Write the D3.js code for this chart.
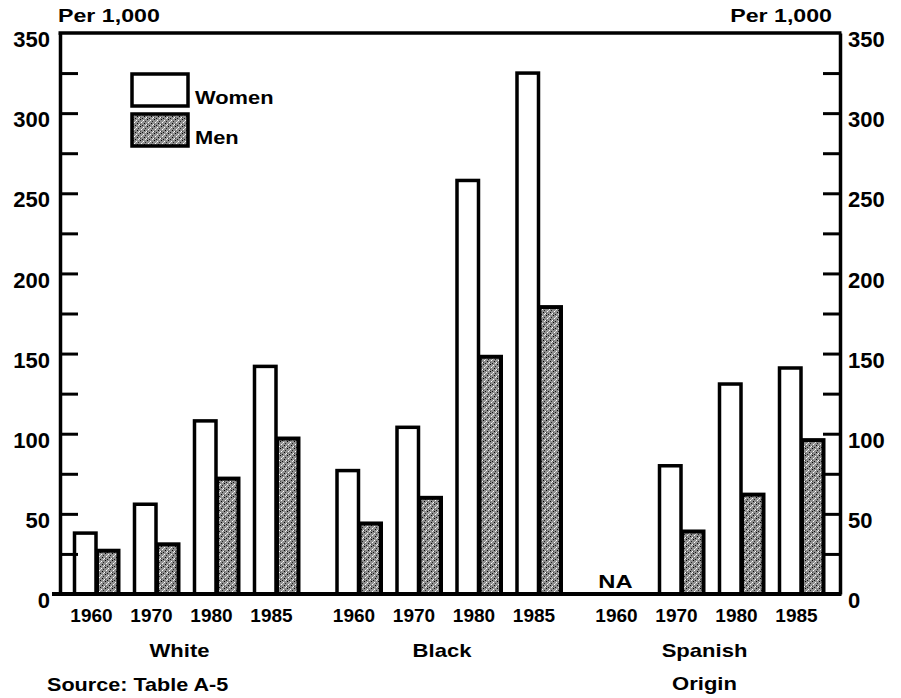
<!DOCTYPE html>
<html>
<head>
<meta charset="utf-8">
<script src="https://cdn.jsdelivr.net/npm/d3@7"></script>
<style>
  html, body { margin: 0; padding: 0; background: #fff; }
  svg { display: block; }
  text { font-family: "Liberation Sans", Arial, Helvetica, sans-serif; fill: #000; font-weight: bold; }
</style>
</head>
<body>
<svg id="chart" width="901" height="698"></svg>
<script>
// ---- data ----
const categories = ["White", "Black", "Spanish Origin"];
const years = ["1960", "1970", "1980", "1985"];
const series = ["Women", "Men"];
const womenValues = [
  [38, 56, 108, 142],
  [77, 104, 258, 325],
  [null, 80, 131, 141]
];
const menValues = [
  [27, 31, 72, 97],
  [44, 60, 148, 179],
  [null, 39, 62, 96]
];
const majorTicks = [0, 50, 100, 150, 200, 250, 300, 350];
const minorStep = 25;
const unitLabel = "Per 1,000";
const naLabel = "NA";
const sourceNote = "Source: Table A-5";

// ---- layout ----
const plotLeft = 60, plotRight = 840, plotTop = 33, plotBottom = 594;
const svg = d3.select("#chart");

const defs = svg.append("defs");
const pat = defs.append("pattern")
  .attr("id", "stipple").attr("patternUnits", "userSpaceOnUse")
  .attr("width", 7).attr("height", 7);
pat.append("rect").attr("width", 7).attr("height", 7).attr("fill", "#8f8f8f");
[[0,0,"#000"],[3,1,"#fff"],[5,2,"#222"],[1,3,"#fff"],[4,4,"#000"],[6,5,"#fff"],[2,6,"#111"],[5,6,"#e8e8e8"],[0,5,"#444"],[2,2,"#d0d0d0"]]
  .forEach(([px, py, c]) => pat.append("rect").attr("x", px).attr("y", py)
    .attr("width", 1).attr("height", 1).attr("fill", c));

const y = d3.scaleLinear().domain([0, 350]).range([plotBottom, plotTop]);
const xGroup = d3.scaleBand().domain(categories).range([73, 823])
  .paddingInner(0.1429).paddingOuter(0);
const xYear = d3.scaleBand().domain(years).range([0, xGroup.bandwidth()])
  .paddingInner(0.25).paddingOuter(0);
const xSeries = d3.scaleBand().domain(series).range([0, xYear.bandwidth()]);

function txt(g, x, yy, s, size, anchor, sx) {
  return g.append("g").attr("transform", `translate(${x},${yy}) scale(${sx || 1},1)`)
    .append("text").attr("text-anchor", anchor || "start")
    .attr("font-size", size).text(s);
}

// ---- bars ----
const barData = [];
categories.forEach((c, ci) => {
  years.forEach((yr, yi) => {
    barData.push({ cat: c, year: yr, s: "Women", v: womenValues[ci][yi] });
    barData.push({ cat: c, year: yr, s: "Men", v: menValues[ci][yi] });
  });
});
const barsG = svg.append("g");
barsG.selectAll("rect").data(barData.filter(d => d.v != null)).join("rect")
  .attr("x", d => xGroup(d.cat) + xYear(d.year) + xSeries(d.s) + 1.5)
  .attr("y", d => y(d.v))
  .attr("width", xSeries.bandwidth() - 1)
  .attr("height", d => y(0) - y(d.v))
  .attr("fill", d => d.s === "Women" ? "#fff" : "url(#stipple)")
  .attr("stroke", "#000")
  .attr("stroke-width", d => d.s === "Women" ? 3.5 : 4);

// NA labels
barData.filter(d => d.v == null && d.s === "Women").forEach(d => {
  txt(svg, xGroup(d.cat) + xYear(d.year) + xYear.bandwidth() / 2 - 5, 588, naLabel, 19, "middle", 1.25);
});

// ---- axes ----
const minorVals = d3.range(minorStep, 350, minorStep);
const axL = svg.append("g").attr("transform", `translate(${plotLeft},0)`)
  .call(d3.axisLeft(y).tickValues(minorVals).tickSizeInner(-18).tickSizeOuter(0).tickFormat(""));
const axR = svg.append("g").attr("transform", `translate(${plotRight},0)`)
  .call(d3.axisRight(y).tickValues(minorVals).tickSizeInner(-17).tickSizeOuter(0).tickFormat(""));
[axL, axR].forEach(a => {
  a.select(".domain").attr("stroke", "#000").attr("stroke-width", 3.5);
  a.selectAll(".tick line").attr("stroke", "#000").attr("stroke-width", 3);
});
const labL = svg.append("g").attr("transform", `translate(${plotLeft},0)`)
  .call(d3.axisLeft(y).tickValues(majorTicks).tickSize(0).tickPadding(10));
const labR = svg.append("g").attr("transform", `translate(${plotRight},0)`)
  .call(d3.axisRight(y).tickValues(majorTicks).tickSize(0).tickPadding(8));
[labL, labR].forEach(a => {
  a.select(".domain").remove();
  a.selectAll(".tick text").attr("font-size", 22)
    .attr("font-family", "'Liberation Sans', Arial, sans-serif")
    .attr("font-weight", "bold")
    .attr("dy", "0.62em").attr("fill", "#000");
});

// frame: top line and baseline
svg.append("line").attr("x1", plotLeft - 1.5).attr("x2", plotRight + 1.5)
  .attr("y1", y(350)).attr("y2", y(350)).attr("stroke", "#000").attr("stroke-width", 3.5);
svg.append("line").attr("x1", plotLeft - 8).attr("x2", plotRight + 1.5)
  .attr("y1", y(0)).attr("y2", y(0)).attr("stroke", "#000").attr("stroke-width", 4);

// ---- x labels ----
categories.forEach(c => {
  years.forEach(yr => {
    txt(svg, xGroup(c) + xYear(yr) + xYear.bandwidth() / 2 - 4, 622, yr, 19, "middle", 1);
  });
  const parts = c.split(" ");
  parts.forEach((p, i) => {
    txt(svg, xGroup(c) + xGroup.bandwidth() / 2 - 6, 657 + i * 33, p, 19, "middle", 1.16);
  });
});

// units
txt(svg, 58, 22, unitLabel, 19, "start", 1.22);
txt(svg, 832, 22, unitLabel, 19, "end", 1.22);

// source
txt(svg, 47, 691, sourceNote, 18, "start", 1.2);

// ---- legend ----
const leg = svg.append("g");
series.forEach((s, i) => {
  const yy = 74 + i * 40;
  leg.append("rect").attr("x", 132).attr("y", yy).attr("width", 56).attr("height", 32)
    .attr("fill", s === "Women" ? "#fff" : "url(#stipple)")
    .attr("stroke", "#000").attr("stroke-width", 3.5);
  txt(leg, 195, yy + 30, s, 19, "start", 1.15);
});
</script>
</body>
</html>
